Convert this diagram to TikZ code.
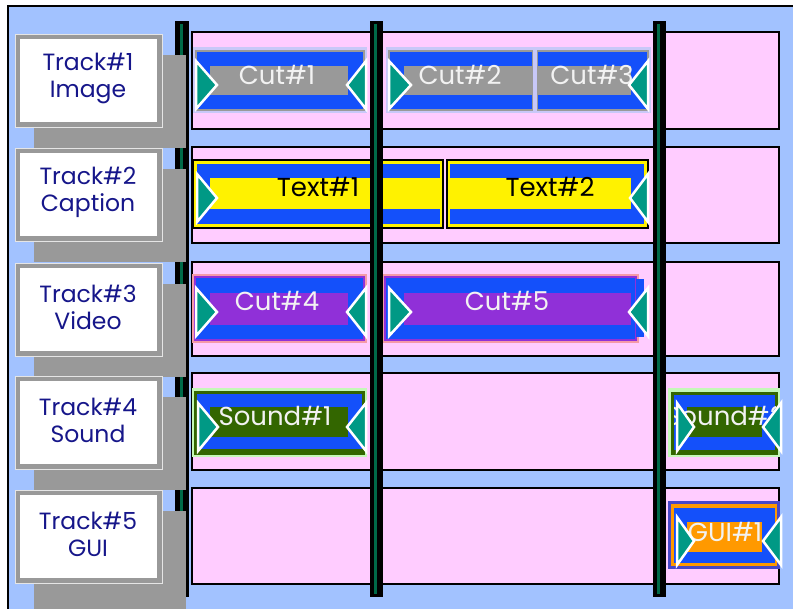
\documentclass[tikz,border=0pt]{standalone}
\usepackage{fontspec}
\setmainfont{Poppins}
\usetikzlibrary{calc}
\definecolor{bgblue}{HTML}{A2C2FF}
\definecolor{rowpink}{HTML}{FFCCFF}
\definecolor{clipblue}{HTML}{1450FA}
\definecolor{midgray}{HTML}{999999}
\definecolor{lavrim}{HTML}{C8C8F8}
\definecolor{salmonrim}{HTML}{F59AA8}
\definecolor{cutpurple}{HTML}{9030D8}
\definecolor{darkgreen}{HTML}{336600}
\definecolor{greenrim}{HTML}{C4F8B8}
\definecolor{guiorange}{HTML}{FF9900}
\definecolor{guirim}{HTML}{4848C8}
\definecolor{teal}{HTML}{009985}
\definecolor{navytext}{HTML}{16168A}
\definecolor{barline}{HTML}{006A48}
\definecolor{softwhite}{HTML}{F2F2F2}
\tikzset{
  frame/.style={fill=bgblue, draw=black, line width=2pt},
  shadowbox/.style={fill=midgray},
  labelouter/.style={fill=midgray, draw=white!80!gray, line width=0.8pt},
  labelinner/.style={fill=white},
  labeltext/.style={text=navytext, font=\fontsize{23.5}{27}\selectfont, align=center, inner sep=0pt},
  rowbox/.style={fill=rowpink, draw=black, line width=1.6pt},
  barbody/.style={fill=black},
  barcore/.style={draw=barline, line width=3pt},
  tri/.style={fill=teal, draw=white, line width=2.5pt, line join=miter},
  cliptext/.style={text=softwhite, font=\fontsize{26}{30}\selectfont, inner sep=0pt, anchor=base},
  darktext/.style={text=black, font=\fontsize{26}{30}\selectfont, inner sep=0pt, anchor=base},
}
% right-pointing triangle: base x, apex x, centre y
\newcommand\trR[3]{\filldraw[tri] (#1,#3-24) -- (#2,#3) -- (#1,#3+24) -- cycle;}
% left-pointing triangle: base x, apex x, centre y
\newcommand\trL[3]{\filldraw[tri] (#1,#3-24) -- (#2,#3) -- (#1,#3+24) -- cycle;}
\begin{document}
\begin{tikzpicture}[x=1pt, y=-1pt]
\useasboundingbox (0,0) rectangle (793,609);
\clip (0,0) rectangle (793,609);
\fill[white] (0,0) rectangle (793,609);
% outer frame
\path[frame] (8,6) rectangle (820,640);

% left bar (behind shadows)
\fill[barbody] (175,21) rectangle (189,597);
\draw[barcore] (181.5,24) -- (181.5,594);

% shadows
\foreach \t in {34,148,263,376} {
  \fill[shadowbox] (34,\t+21) rectangle (186,\t+114);
}
\fill[shadowbox] (34,511) rectangle (186,612);

% track label boxes
\foreach \t/\n/\a/\b in {34/l1/Track\#1/Image, 148/l2/Track\#2/Caption, 263/l3/Track\#3/Video, 376/l4/Track\#4/Sound, 490/l5/Track\#5/GUI} {
  \path[labelouter] (15,\t) rectangle (162,\t+93);
  \fill[labelinner] (20,\t+5) rectangle (157,\t+88);
  \node[labeltext] (\n) at (88,\t+44) {\a\\\b};
}

% track rows
\foreach \t/\bb/\n in {32/129/r1, 147/243/r2, 262/356/r3, 373/470/r4, 488/584/r5} {
  \path[rowbox] (192,\t) rectangle (779,\bb);
  \coordinate (\n) at (485,\t);
}

% ---- Track 1 ----
\fill[lavrim] (193,47) rectangle (367,113);
\filldraw[fill=clipblue, draw=midgray, line width=2pt] (196,51) rectangle (364,110);
\fill[midgray] (210,66) rectangle (348,95);
\node[cliptext] (cut1) at (277,85) {Cut\#1};
\trR{196}{217}{85}
\trL{366}{347}{85}

\fill[lavrim] (386,47) rectangle (651,113);
\filldraw[fill=clipblue, draw=midgray, line width=2pt] (389,51) rectangle (533,110);
\filldraw[fill=clipblue, draw=midgray, line width=2pt] (537,51) rectangle (648,110);
\fill[midgray] (404,66) rectangle (533,95);
\fill[midgray] (537,66) rectangle (631,95);
\fill[lavrim] (533,49) rectangle (537,112);
\node[cliptext] (cut2) at (460,85) {Cut\#2};
\node[cliptext] (cut3) at (592,85) {Cut\#3};
\trR{389}{411}{85}
\trL{648}{629}{85}

% ---- Track 2 ----
\filldraw[fill=yellow, draw=black, line width=1.5pt] (193,160) rectangle (443,228);
\fill[clipblue] (197,164) rectangle (440,224);
\fill[yellow] (210,178) rectangle (440,209);
\filldraw[fill=yellow, draw=black, line width=1.5pt] (447,160) rectangle (648,228);
\fill[clipblue] (450,164) rectangle (644,224);
\fill[yellow] (450,178) rectangle (631,209);
\node[darktext] (text1) at (318,197) {Text\#1};
\node[darktext] (text2) at (550,197) {Text\#2};
\trR{197}{217}{198}
\trL{648}{630}{198}

% ---- Track 3 ----
\fill[salmonrim] (192,274) rectangle (367,343);
\filldraw[fill=clipblue, draw=cutpurple, line width=2pt] (195,277) rectangle (364,340);
\fill[cutpurple] (210,293) rectangle (348,325);
\node[cliptext] (cut4) at (277,311) {Cut\#4};
\trR{196}{217}{312}
\trL{366}{347}{312}

\fill[salmonrim] (383,274) rectangle (639,343);
\filldraw[fill=clipblue, draw=cutpurple, line width=2pt] (385,277) rectangle (636,340);
\fill[clipblue] (636,279) rectangle (644,337);
\fill[cutpurple] (404,293) rectangle (631,325);
\node[cliptext] (cut5) at (507,311) {Cut\#5};
\trR{389}{411}{312}
\trL{648}{629}{312}

% ---- Track 4 ----
\fill[greenrim] (192,388) rectangle (367,457);
\fill[darkgreen] (194,391) rectangle (365,455);
\fill[clipblue] (197,394) rectangle (362,449);
\fill[darkgreen] (210,407) rectangle (348,437);
\node[cliptext] (snd1) at (275,426) {Sound\#1};
\trR{198}{218}{427}
\trL{366}{347}{427}

\fill[greenrim] (668,388) rectangle (780,457);
\fill[darkgreen] (671,392) rectangle (778,455);
\fill[clipblue] (674,395) rectangle (775,450);
\fill[darkgreen] (687,407) rectangle (762,437);
\begin{scope}
  \clip (674,395) rectangle (775,450);
  \node[cliptext] (snd2) at (725,426) {Sound\#2};
\end{scope}
\trR{677}{694}{427}
\trL{781}{763}{427}

% ---- Track 5 ----
\fill[guirim] (668,501) rectangle (780,569);
\fill[guiorange] (671,504) rectangle (777,566);
\fill[clipblue] (674,508) rectangle (775,563);
\fill[guiorange] (687,522) rectangle (762,552);
\node[cliptext] (gui1) at (725,541) {GUI\#1};
\trR{677}{694}{541}
\trL{781}{763}{541}

% playhead bars (on top)
\fill[barbody] (369.5,21) rectangle (382.5,597);
\draw[barcore] (375.5,24) -- (375.5,594);
\fill[barbody] (652.5,21) rectangle (666,597);
\draw[barcore] (658.7,24) -- (658.7,594);
\end{tikzpicture}
\end{document}
